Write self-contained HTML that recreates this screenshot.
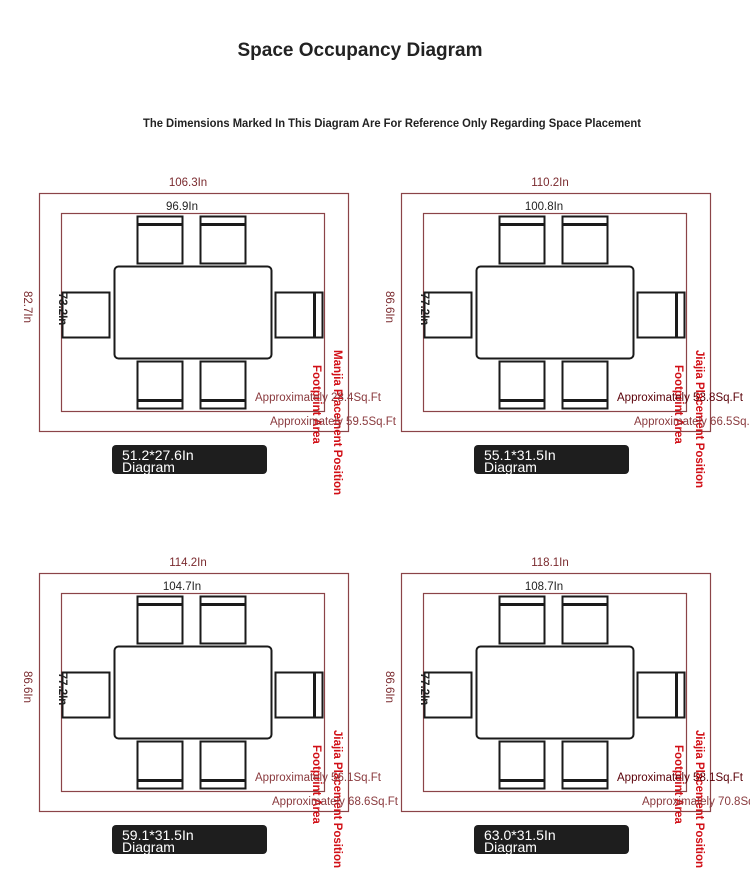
<!DOCTYPE html>
<html><head><meta charset="utf-8"><style>
html,body{margin:0;padding:0;background:#fff;}
svg{display:block;font-family:"Liberation Sans",sans-serif;}
.dim{fill:#7a2a2e;font-size:11.5px;}
.blk{fill:#222;font-size:11.5px;}
.blkv{fill:#222;font-size:11.5px;font-weight:bold;}
.red{fill:#d10f16;font-size:11.5px;font-weight:bold;}
.ap{fill:#8a3a3e;font-size:11.5px;}
.ap2{fill:#5a0008;font-size:11.5px;}
.lb{fill:#fff;font-size:14px;}
</style></head><body>
<svg width="750" height="895" viewBox="0 0 750 895" xmlns="http://www.w3.org/2000/svg">
<defs>
<g id="panel">
  <rect x="39.5" y="193.5" width="309" height="238" fill="none" stroke="#8b4448" stroke-width="1.2"/>
  <rect x="61.5" y="213.5" width="263" height="198" fill="none" stroke="#8b4448" stroke-width="1.2"/>
  <g fill="none" stroke="#1a1a1a" stroke-width="2">
    <rect x="137.5" y="216.5" width="45" height="47"/>
    <line x1="137" y1="224.5" x2="183" y2="224.5" stroke-width="3"/>
    <rect x="200.5" y="216.5" width="45" height="47"/>
    <line x1="200" y1="224.5" x2="246" y2="224.5" stroke-width="3"/>
    <rect x="137.5" y="361.5" width="45" height="47"/>
    <line x1="137" y1="400.5" x2="183" y2="400.5" stroke-width="3"/>
    <rect x="200.5" y="361.5" width="45" height="47"/>
    <line x1="200" y1="400.5" x2="246" y2="400.5" stroke-width="3"/>
    <rect x="114.5" y="266.5" width="157" height="92" rx="4"/>
    <rect x="62.5" y="292.5" width="47" height="45"/>
    <rect x="275.5" y="292.5" width="47" height="45"/>
    <line x1="314.5" y1="292" x2="314.5" y2="338" stroke-width="3"/>
  </g>
  <rect x="112" y="445" width="155" height="29" rx="4" fill="#1e1e1e"/>
</g>
</defs>

<text x="360" y="56" text-anchor="middle" style="font-size:19px;fill:#222;font-weight:bold">Space Occupancy Diagram</text>
<text x="392" y="127" text-anchor="middle" textLength="498" lengthAdjust="spacingAndGlyphs" style="font-size:12px;fill:#222;font-weight:bold">The Dimensions Marked In This Diagram Are For Reference Only Regarding Space Placement</text>

<!-- Panel 1 -->
<use href="#panel"/>
<text class="dim" x="188" y="186" text-anchor="middle">106.3In</text>
<text class="blk" x="182" y="210" text-anchor="middle">96.9In</text>
<text class="dim" transform="translate(24,307) rotate(90)" text-anchor="middle">82.7In</text>
<text class="blkv" transform="translate(59,309) rotate(90)" text-anchor="middle">73.2In</text>
<text class="red" transform="translate(334,350) rotate(90)">Manjia Placement Position</text>
<text class="red" transform="translate(313,365) rotate(90)">Footprint Area</text>
<text class="ap" x="255" y="401">Approximately 28.4Sq.Ft</text>
<text class="ap" x="270" y="425">Approximately 59.5Sq.Ft</text>
<text class="lb" x="122" y="460">51.2*27.6In</text>
<text class="lb" x="122" y="472">Diagram</text>

<!-- Panel 2 -->
<use href="#panel" transform="translate(362,0)"/>
<text class="dim" x="550" y="186" text-anchor="middle">110.2In</text>
<text class="blk" x="544" y="210" text-anchor="middle">100.8In</text>
<text class="dim" transform="translate(386,307) rotate(90)" text-anchor="middle">86.6In</text>
<text class="blkv" transform="translate(421,309) rotate(90)" text-anchor="middle">77.2In</text>
<text class="red" transform="translate(696,350) rotate(90)">Jiajia Placement Position</text>
<text class="red" transform="translate(675,365) rotate(90)">Footprint Area</text>
<text class="ap2" x="617" y="401">Approximately 53.8Sq.Ft</text>
<text class="ap" x="634" y="425">Approximately 66.5Sq.Ft</text>
<text class="lb" x="484" y="460">55.1*31.5In</text>
<text class="lb" x="484" y="472">Diagram</text>

<!-- Panel 3 -->
<use href="#panel" transform="translate(0,380)"/>
<text class="dim" x="188" y="566" text-anchor="middle">114.2In</text>
<text class="blk" x="182" y="590" text-anchor="middle">104.7In</text>
<text class="dim" transform="translate(24,687) rotate(90)" text-anchor="middle">86.6In</text>
<text class="blkv" transform="translate(59,689) rotate(90)" text-anchor="middle">77.2In</text>
<text class="red" transform="translate(334,730) rotate(90)">Jiajia Placement Position</text>
<text class="red" transform="translate(313,745) rotate(90)">Footprint Area</text>
<text class="ap" x="255" y="781">Approximately 56.1Sq.Ft</text>
<text class="ap" x="272" y="805">Approximately 68.6Sq.Ft</text>
<text class="lb" x="122" y="840">59.1*31.5In</text>
<text class="lb" x="122" y="852">Diagram</text>

<!-- Panel 4 -->
<use href="#panel" transform="translate(362,380)"/>
<text class="dim" x="550" y="566" text-anchor="middle">118.1In</text>
<text class="blk" x="544" y="590" text-anchor="middle">108.7In</text>
<text class="dim" transform="translate(386,687) rotate(90)" text-anchor="middle">86.6In</text>
<text class="blkv" transform="translate(421,689) rotate(90)" text-anchor="middle">77.2In</text>
<text class="red" transform="translate(696,730) rotate(90)">Jiajia Placement Position</text>
<text class="red" transform="translate(675,745) rotate(90)">Footprint Area</text>
<text class="ap2" x="617" y="781">Approximately 58.1Sq.Ft</text>
<text class="ap" x="642" y="805">Approximately 70.8Sq.Ft</text>
<text class="lb" x="484" y="840">63.0*31.5In</text>
<text class="lb" x="484" y="852">Diagram</text>
</svg>
</body></html>
